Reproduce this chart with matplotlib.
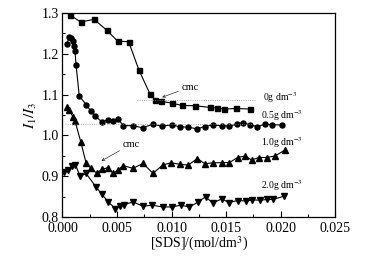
import matplotlib
matplotlib.use("Agg")
import matplotlib.pyplot as plt
from matplotlib.ticker import MultipleLocator

plt.rcParams['font.family'] = ['Liberation Serif', 'DejaVu Serif']
plt.rcParams['mathtext.fontset'] = 'stix'

# 0 g dm-3
x0 = [0.00069, 0.00167, 0.00289, 0.00408, 0.00506, 0.00607, 0.00702, 0.00803, 0.00849,
      0.00904, 0.01002, 0.01094, 0.01216, 0.01353, 0.01420, 0.01484, 0.01592, 0.01720]
y0 = [1.2951, 1.2778, 1.2845, 1.2574, 1.2310, 1.2296, 1.1596, 1.1015, 1.0874,
      1.0833, 1.0793, 1.0734, 1.0727, 1.0685, 1.0670, 1.0645, 1.0660, 1.0645]

# 0.5 g dm-3
x05 = [0.00039, 0.00062, 0.00078, 0.00094, 0.00106, 0.00115, 0.00124, 0.00154, 0.00220,
       0.00257, 0.00298, 0.00360, 0.00420, 0.00466, 0.00512, 0.00558, 0.00650, 0.00734,
       0.00826, 0.00917, 0.01002, 0.01078, 0.01154, 0.01234, 0.01307, 0.01383, 0.01459,
       0.01528, 0.01604, 0.01653, 0.01720, 0.01787, 0.01858, 0.01922, 0.02011]
y05 = [1.2229, 1.2419, 1.2377, 1.2310, 1.2187, 1.2064, 1.1736, 1.0961, 1.0751,
       1.0603, 1.0480, 1.0333, 1.0382, 1.0357, 1.0394, 1.0239, 1.0239, 1.0185,
       1.0271, 1.0227, 1.0259, 1.0209, 1.0202, 1.0160, 1.0217, 1.0259, 1.0234,
       1.0234, 1.0271, 1.0315, 1.0259, 1.0217, 1.0276, 1.0259, 1.0259]

# 1.0 g dm-3
x10 = [0.00041, 0.00064, 0.00094, 0.00115, 0.00167, 0.00216, 0.00261, 0.00314, 0.00360,
       0.00420, 0.00463, 0.00509, 0.00555, 0.00647, 0.00739, 0.00830, 0.00919, 0.00995,
       0.01078, 0.01154, 0.01237, 0.01307, 0.01383, 0.01461, 0.01532, 0.01606, 0.01674,
       0.01734, 0.01803, 0.01873, 0.01950, 0.02041]
y10 = [1.0690, 1.0616, 1.0463, 1.0357, 0.9847, 0.9330, 0.9192, 0.9076, 0.9167,
       0.9212, 0.9069, 0.9150, 0.9261, 0.9192, 0.9315, 0.9069, 0.9273, 0.9330,
       0.9291, 0.9273, 0.9433, 0.9303, 0.9330, 0.9330, 0.9335, 0.9458, 0.9495,
       0.9397, 0.9458, 0.9458, 0.9495, 0.9643]

# 2.0 g dm-3
x20 = [0.00018, 0.00048, 0.00087, 0.00119, 0.00161, 0.00216, 0.00307, 0.00358, 0.00420,
       0.00486, 0.00528, 0.00561, 0.00647, 0.00739, 0.00821, 0.00919, 0.01002, 0.01083,
       0.01165, 0.01246, 0.01312, 0.01378, 0.01461, 0.01525, 0.01607, 0.01679, 0.01743,
       0.01812, 0.01876, 0.01931, 0.02032]
y20 = [0.9108, 0.9158, 0.9241, 0.9286, 0.8995, 0.9069, 0.8739, 0.8567, 0.8367,
       0.8207, 0.8264, 0.8300, 0.8369, 0.8264, 0.8288, 0.8246, 0.8246, 0.8288,
       0.8246, 0.8369, 0.8495, 0.8345, 0.8443, 0.8355, 0.8404, 0.8394, 0.8419,
       0.8411, 0.8429, 0.8429, 0.8510]

# cmc reference (dotted) levels
cmc_x = [[0.0068, 0.0177], [0.0002, 0.0177]]
cmc_y = [1.0857, 1.0283]

series_labels = ['0g dm$^{-3}$', '0.5g dm$^{-3}$', '1.0g dm$^{-3}$', '2.0g dm$^{-3}$']
label_pos = [(0.0184, 1.093), (0.0182, 1.049), (0.0182, 0.983), (0.0182, 0.876)]

fig = plt.figure(figsize=(3.76, 2.59), dpi=100)
ax = fig.add_axes([0.1662, 0.1622, 0.8910 - 0.1662, 0.9498 - 0.1622])

lw = 0.8
ms = 3.6
ax.plot(x0, y0, '-s', color='black', lw=lw, ms=ms)
ax.plot(x05, y05, '-o', color='black', lw=lw, ms=ms)
ax.plot(x10, y10, '-^', color='black', lw=lw, ms=ms + 0.4)
ax.plot(x20, y20, '-v', color='black', lw=lw, ms=ms + 0.4)

for xs, yv in zip(cmc_x, cmc_y):
    ax.plot(xs, [yv, yv], ':', color='#888888', lw=0.6)

for lab, (lx, ly) in zip(series_labels, label_pos):
    ax.text(lx, ly, lab, fontsize=7, ha='left', va='center')

ax.annotate('cmc', xy=(0.00915, 1.0935), xytext=(0.0109, 1.1185), fontsize=7.5,
            ha='left', va='center',
            arrowprops=dict(arrowstyle='->', color='black', lw=0.4, shrinkA=0, shrinkB=0,
                            mutation_scale=5))
ax.annotate('cmc', xy=(0.00358, 0.9375), xytext=(0.0055, 0.9785), fontsize=7.5,
            ha='left', va='center',
            arrowprops=dict(arrowstyle='->', color='black', lw=0.4, shrinkA=0, shrinkB=0,
                            mutation_scale=5))

ax.set_xlim(0, 0.025)
ax.set_ylim(0.8, 1.3)
ax.xaxis.set_major_locator(MultipleLocator(0.005))
ax.xaxis.set_minor_locator(MultipleLocator(0.0025))
ax.yaxis.set_major_locator(MultipleLocator(0.1))
ax.yaxis.set_minor_locator(MultipleLocator(0.05))
ax.xaxis.set_major_formatter(matplotlib.ticker.FormatStrFormatter('%.3f'))
ax.yaxis.set_major_formatter(matplotlib.ticker.FormatStrFormatter('%.1f'))
ax.tick_params(which='both', direction='in', labelsize=10, width=0.8)
ax.tick_params(which='major', length=4)
ax.tick_params(axis='x', which='major', pad=3.5)
ax.tick_params(axis='y', which='major', pad=2.5)
ax.tick_params(which='minor', length=2.5)
for sp in ax.spines.values():
    sp.set_linewidth(0.9)

ax.set_xlabel('[SDS]/(mol/dm$^{3}$)', fontsize=10, labelpad=0)
ax.set_ylabel('$I_1/I_3$', fontsize=11, labelpad=2)

fig.savefig('out.png', dpi=100)
